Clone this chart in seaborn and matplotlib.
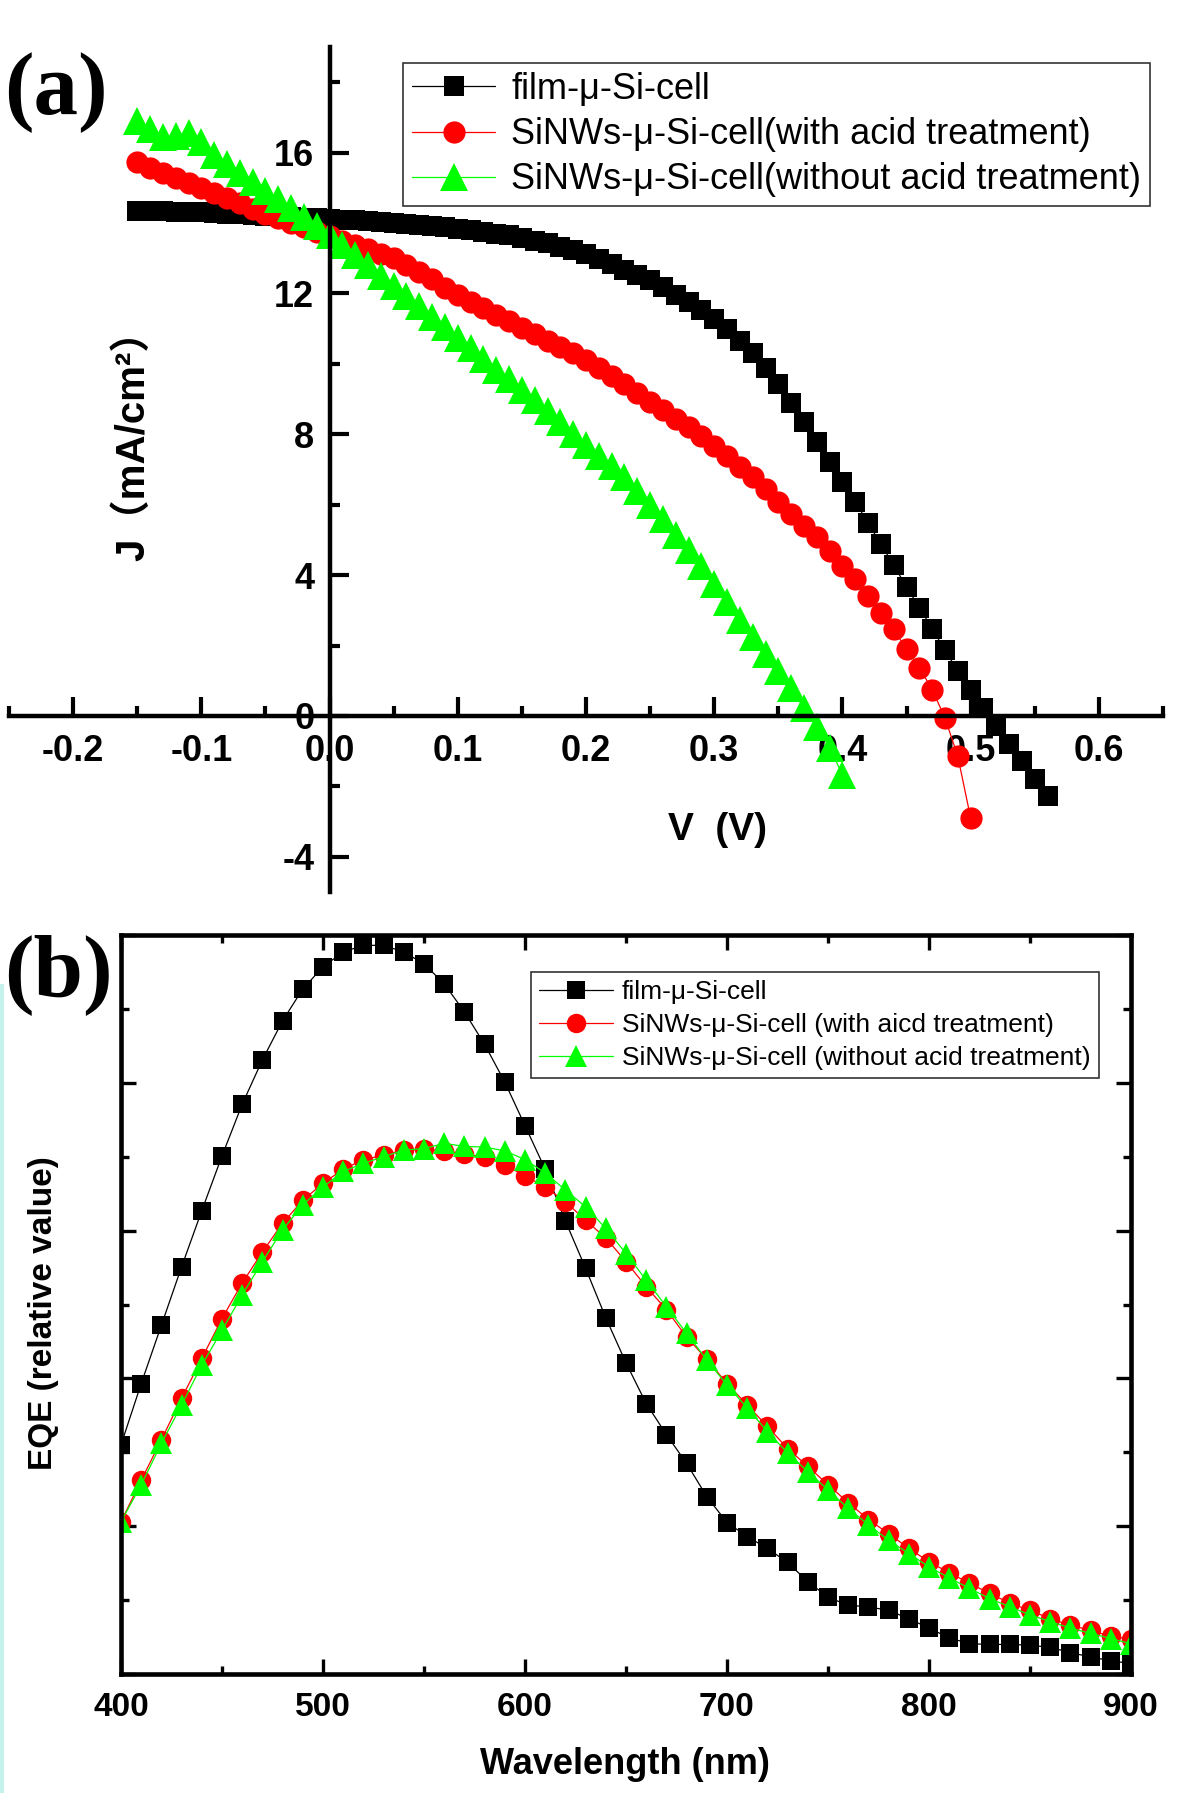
import matplotlib
matplotlib.use('Agg')
import matplotlib.pyplot as plt
from matplotlib.patches import Rectangle
from matplotlib.ticker import MultipleLocator, FormatStrFormatter
import seaborn as sns

sns.set_style('ticks', {'axes.edgecolor': 'black', 'xtick.color': 'black',
                        'ytick.color': 'black', 'text.color': 'black'})
plt.rcParams['font.family'] = ['Liberation Sans', 'Noto Sans CJK SC', 'DejaVu Sans']
plt.rcParams['font.weight'] = 'bold'
plt.rcParams['axes.unicode_minus'] = False

# ---- (a) J-V curves ----
voltage = [-0.15, -0.14, -0.13, -0.12, -0.11, -0.10, -0.09, -0.08, -0.07, -0.06,
           -0.05, -0.04, -0.03, -0.02, -0.01, 0.00, 0.01, 0.02, 0.03, 0.04,
           0.05, 0.06, 0.07, 0.08, 0.09, 0.10, 0.11, 0.12, 0.13, 0.14,
           0.15, 0.16, 0.17, 0.18, 0.19, 0.20, 0.21, 0.22, 0.23, 0.24,
           0.25, 0.26, 0.27, 0.28, 0.29, 0.30, 0.31, 0.32, 0.33, 0.34,
           0.35, 0.36, 0.37, 0.38, 0.39, 0.40, 0.41, 0.42, 0.43, 0.44,
           0.45, 0.46, 0.47, 0.48, 0.49, 0.50, 0.51, 0.52, 0.53, 0.54,
           0.55, 0.56]

j_film = [14.35, 14.34, 14.33, 14.32, 14.31, 14.30, 14.28, 14.27, 14.25, 14.23,
          14.21, 14.19, 14.17, 14.15, 14.14, 14.12, 14.10, 14.08, 14.06, 14.04,
          14.01, 13.98, 13.95, 13.92, 13.88, 13.84, 13.79, 13.74, 13.70, 13.65,
          13.58, 13.50, 13.42, 13.33, 13.23, 13.11, 12.98, 12.84, 12.68, 12.52,
          12.38, 12.18, 11.96, 11.75, 11.52, 11.27, 10.98, 10.66, 10.30, 9.88,
          9.42, 8.90, 8.35, 7.78, 7.21, 6.64, 6.08, 5.48, 4.88, 4.28,
          3.66, 3.08, 2.48, 1.86, 1.28, 0.75, 0.24, -0.28, -0.80, -1.28,
          -1.80, -2.28]

j_acid = [15.72, 15.57, 15.43, 15.28, 15.14, 14.99, 14.85, 14.70, 14.56, 14.41,
          14.27, 14.14, 14.01, 13.88, 13.75, 13.62, 13.50, 13.37, 13.25, 13.12,
          13.00, 12.80, 12.60, 12.40, 12.16, 11.95, 11.77, 11.59, 11.40, 11.22,
          11.03, 10.85, 10.66, 10.48, 10.30, 10.10, 9.88, 9.65, 9.42, 9.18,
          8.93, 8.69, 8.44, 8.20, 7.94, 7.68, 7.39, 7.06, 6.78, 6.45,
          6.08, 5.73, 5.40, 5.07, 4.69, 4.26, 3.88, 3.41, 2.93, 2.46,
          1.89, 1.37, 0.75, -0.06, -1.15, -2.90]

j_noacid = [16.90, 16.67, 16.43, 16.46, 16.57, 16.29, 15.93, 15.67, 15.42, 15.17,
            14.92, 14.67, 14.42, 14.17, 13.92, 13.67, 13.38, 13.09, 12.80, 12.51,
            12.22, 11.93, 11.63, 11.34, 11.04, 10.74, 10.44, 10.14, 9.84, 9.56,
            9.27, 8.97, 8.66, 8.34, 8.02, 7.70, 7.38, 7.10, 6.80, 6.40,
            6.00, 5.58, 5.15, 4.70, 4.25, 3.75, 3.24, 2.73, 2.25, 1.75,
            1.27, 0.78, 0.22, -0.30, -0.90, -1.67]

labels_a = ['film-\u03bc-Si-cell',
            'SiNWs-\u03bc-Si-cell(with acid treatment)',
            'SiNWs-\u03bc-Si-cell(without acid treatment)']

# ---- (b) EQE spectra (relative) ----
wavelength = [400, 410, 420, 430, 440, 450, 460, 470, 480, 490,
              500, 510, 520, 530, 540, 550, 560, 570, 580, 590,
              600, 610, 620, 630, 640, 650, 660, 670, 680, 690,
              700, 710, 720, 730, 740, 750, 760, 770, 780, 790,
              800, 810, 820, 830, 840, 850, 860, 870, 880, 890, 900]

eqe_film = [0.310, 0.393, 0.472, 0.551, 0.627, 0.701, 0.771, 0.831, 0.884, 0.927,
            0.957, 0.977, 0.986, 0.986, 0.977, 0.961, 0.934, 0.896, 0.852, 0.801,
            0.742, 0.683, 0.613, 0.549, 0.482, 0.421, 0.366, 0.324, 0.285, 0.240,
            0.205, 0.186, 0.170, 0.151, 0.125, 0.104, 0.093, 0.091, 0.086, 0.075,
            0.062, 0.049, 0.041, 0.040, 0.040, 0.039, 0.036, 0.029, 0.023, 0.018, 0.014]

eqe_acid = [0.206, 0.262, 0.317, 0.373, 0.427, 0.481, 0.529, 0.571, 0.610, 0.641,
            0.664, 0.683, 0.696, 0.702, 0.709, 0.710, 0.708, 0.704, 0.699, 0.689,
            0.674, 0.659, 0.639, 0.614, 0.590, 0.558, 0.524, 0.493, 0.456, 0.426,
            0.393, 0.364, 0.335, 0.305, 0.281, 0.256, 0.232, 0.209, 0.190, 0.170,
            0.152, 0.137, 0.123, 0.109, 0.096, 0.086, 0.075, 0.066, 0.059, 0.051, 0.047]

eqe_noacid = [0.206, 0.256, 0.312, 0.364, 0.418, 0.465, 0.513, 0.558, 0.601, 0.635,
              0.659, 0.680, 0.691, 0.700, 0.709, 0.711, 0.718, 0.714, 0.713, 0.708,
              0.696, 0.678, 0.655, 0.632, 0.603, 0.569, 0.533, 0.497, 0.461, 0.425,
              0.391, 0.360, 0.328, 0.299, 0.274, 0.249, 0.224, 0.202, 0.181, 0.163,
              0.145, 0.130, 0.116, 0.102, 0.091, 0.080, 0.071, 0.062, 0.055, 0.048, 0.041]

labels_b = ['film-\u03bc-Si-cell',
            'SiNWs-\u03bc-Si-cell (with aicd treatment)',
            'SiNWs-\u03bc-Si-cell (without acid treatment)']

colors = ['#000000', '#ff0000', '#00ff00']
markers = ['s', 'o', '^']

W, H = 1200, 1793
fig = plt.figure(figsize=(12, 17.93), dpi=100)

# ---------------- panel (a) ----------------
ax = fig.add_axes([9 / W, 1 - 892 / H, 1154 / W, 845 / H])
series_a = [(voltage, j_film), (voltage[:len(j_acid)], j_acid), (voltage[:len(j_noacid)], j_noacid)]
sizes_a = [14.5, 16, 19.5]
for (x, y), c, m, ms, lab in zip(series_a, colors, markers, sizes_a, labels_a):
    sns.lineplot(x=x, y=y, ax=ax, color=c, marker=m, markersize=ms,
                 markeredgewidth=0, linewidth=0.9, label=lab, sort=False,
                 estimator=None)

ax.set_xlim(-0.25, 0.65)
ax.set_ylim(-5, 19)
ax.spines['left'].set_position(('data', 0))
ax.spines['bottom'].set_position(('data', 0))
ax.spines['top'].set_visible(False)
ax.spines['right'].set_visible(False)
for s in ['left', 'bottom']:
    ax.spines[s].set_linewidth(3.2)
ax.xaxis.set_major_locator(MultipleLocator(0.1))
ax.xaxis.set_minor_locator(MultipleLocator(0.05))
ax.yaxis.set_major_locator(MultipleLocator(4))
ax.yaxis.set_minor_locator(MultipleLocator(2))
ax.xaxis.set_major_formatter(FormatStrFormatter('%.1f'))
ax.yaxis.set_major_formatter(FormatStrFormatter('%d'))
ax.tick_params(which='both', direction='in', width=3, labelsize=26)
ax.tick_params(which='major', length=13.5)
ax.tick_params(which='minor', length=7.5)
ax.tick_params(axis='x', pad=13)
ax.tick_params(axis='y', pad=11)
ax.set_xlabel('')
ax.set_ylabel('')
ax.patch.set_alpha(0)

leg = ax.legend(loc='upper left', bbox_to_anchor=(403 / W, 1 - 63 / H),
                bbox_transform=fig.transFigure, prop={'size': 26, 'weight': 'normal'},
                frameon=True, fancybox=False, framealpha=1, edgecolor='#333333',
                borderpad=0.25, labelspacing=0.28, handlelength=2.3,
                handletextpad=0.45, borderaxespad=0)
leg.get_frame().set_linewidth(1.2)

fig.text(717 / W, 1 - 830 / H, 'V  (V)', ha='center', va='center', fontsize=28,
         fontweight='bold')
fig.text(133 / W, 1 - 436 / H, 'J\uff08mA/cm\u00b2\uff09', rotation=90, ha='center',
         va='center', fontsize=29, fontweight='bold',
         family=['Liberation Sans', 'Noto Sans CJK SC'])
fig.text(56 / W, 1 - 93 / H, '(a)', ha='center', va='center', fontsize=64,
         fontweight='bold', family='Liberation Serif')

# ---------------- panel (b) ----------------
ax2 = fig.add_axes([121 / W, 1 - 1674 / H, 1010 / W, 739 / H])
series_b = [eqe_film, eqe_acid, eqe_noacid]
sizes_b = [13.5, 14, 16.5]
for y, c, m, ms, lab in zip(series_b, colors, markers, sizes_b, labels_b):
    sns.lineplot(x=wavelength, y=y, ax=ax2, color=c, marker=m, markersize=ms,
                 markeredgewidth=0, linewidth=0.9, label=lab, sort=False,
                 estimator=None)

ax2.set_xlim(400, 900)
ax2.set_ylim(0, 1)
ax2.xaxis.set_major_locator(MultipleLocator(100))
ax2.xaxis.set_minor_locator(MultipleLocator(50))
ax2.yaxis.set_major_locator(MultipleLocator(0.2))
ax2.yaxis.set_minor_locator(MultipleLocator(0.1))
ax2.tick_params(which='both', direction='in', width=2.4, top=True, right=True,
                labelleft=False, labelsize=24)
ax2.tick_params(which='major', length=11)
ax2.tick_params(which='minor', length=6)
ax2.tick_params(axis='x', pad=13)
for s in ax2.spines.values():
    s.set_linewidth(3.3)
ax2.set_xlabel('')
ax2.set_ylabel('')

leg2 = ax2.legend(loc='upper left', bbox_to_anchor=(531 / W, 1 - 972 / H),
                  bbox_transform=fig.transFigure, prop={'size': 19, 'weight': 'normal'},
                  frameon=True, fancybox=False, framealpha=1, edgecolor='#333333',
                  borderpad=0.3, labelspacing=0.34, handlelength=2.8,
                  handletextpad=0.35, borderaxespad=0)
leg2.get_frame().set_linewidth(1.2)

fig.text(625 / W, 1 - 1765 / H, 'Wavelength (nm)', ha='center', va='center',
         fontsize=26, fontweight='bold')
fig.text(44 / W, 1 - 1313 / H, 'EQE (relative value)', rotation=90, ha='center',
         va='center', fontsize=24, fontweight='bold')
fig.text(58 / W, 1 - 975 / H, '(b)', ha='center', va='center', fontsize=64,
         fontweight='bold', family='Liberation Serif')

# thin cyan edge seen along the left border of panel (b)
fig.add_artist(Rectangle((0, 0), 4 / W, (H - 984) / H, transform=fig.transFigure,
                         color='#c4f2ec', lw=0))

fig.savefig('out.png', dpi=100)
